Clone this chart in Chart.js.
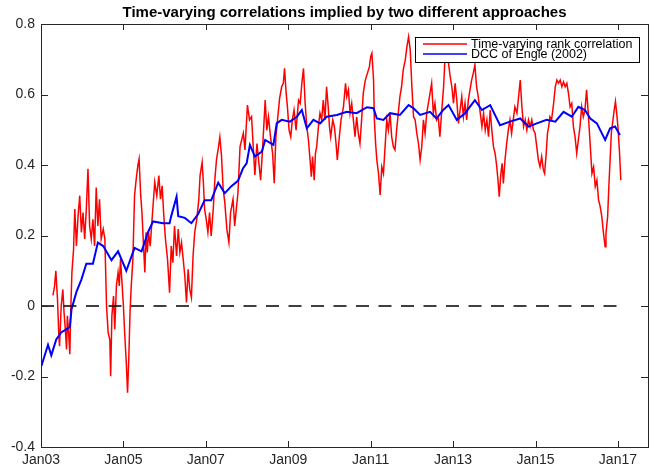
<!DOCTYPE html>
<html>
<head>
<meta charset="utf-8">
<script src="https://cdn.jsdelivr.net/npm/chart.js@4/dist/chart.umd.min.js"></script>
<style>
  html, body { margin: 0; padding: 0; background: #fff; }
  #wrap { width: 650px; height: 471px; }
</style>
</head>
<body>
<div id="wrap"><canvas id="corrChart" width="650" height="471"></canvas></div>
<script>
// Time-varying rank correlation (red), decimal years / values
const rankYears = [
  2003.29, 2003.33, 2003.36, 2003.40, 2003.43, 2003.45, 2003.49, 2003.53, 2003.56, 2003.59,
  2003.62, 2003.64, 2003.67, 2003.70, 2003.72, 2003.75, 2003.79, 2003.82, 2003.86, 2003.90,
  2003.94, 2003.98, 2004.02, 2004.06, 2004.10, 2004.14, 2004.18, 2004.22, 2004.26, 2004.30,
  2004.34, 2004.38, 2004.42, 2004.46, 2004.51, 2004.55, 2004.59, 2004.63, 2004.67, 2004.69,
  2004.72, 2004.76, 2004.79, 2004.83, 2004.87, 2004.90, 2004.93, 2004.97, 2005.00, 2005.03,
  2005.07, 2005.10, 2005.13, 2005.16, 2005.19, 2005.23, 2005.27, 2005.31, 2005.35, 2005.38,
  2005.42, 2005.45, 2005.48, 2005.52, 2005.55, 2005.58, 2005.61, 2005.65, 2005.69, 2005.73,
  2005.76, 2005.81, 2005.86, 2005.90, 2005.94, 2005.98, 2006.02, 2006.07, 2006.12, 2006.16,
  2006.20, 2006.24, 2006.29, 2006.33, 2006.37, 2006.41, 2006.45, 2006.49, 2006.53, 2006.57,
  2006.61, 2006.65, 2006.69, 2006.73, 2006.78, 2006.83, 2006.86, 2006.91, 2006.94, 2006.97,
  2007.01, 2007.05, 2007.09, 2007.13, 2007.18, 2007.22, 2007.26, 2007.30, 2007.34, 2007.38,
  2007.42, 2007.46, 2007.51, 2007.56, 2007.60, 2007.66, 2007.70, 2007.74, 2007.78, 2007.83,
  2007.91, 2007.95, 2008.01, 2008.06, 2008.11, 2008.15, 2008.19, 2008.24, 2008.28, 2008.33,
  2008.38, 2008.44, 2008.48, 2008.52, 2008.57, 2008.62, 2008.66, 2008.70, 2008.74, 2008.79,
  2008.84, 2008.88, 2008.91, 2008.95, 2008.98, 2009.02, 2009.06, 2009.10, 2009.14, 2009.19,
  2009.25, 2009.29, 2009.33, 2009.37, 2009.41, 2009.45, 2009.49, 2009.53, 2009.56, 2009.59,
  2009.63, 2009.66, 2009.69, 2009.74, 2009.77, 2009.81, 2009.85, 2009.89, 2009.93, 2009.97,
  2010.00, 2010.03, 2010.08, 2010.12, 2010.16, 2010.19, 2010.24, 2010.28, 2010.34, 2010.39,
  2010.42, 2010.46, 2010.50, 2010.54, 2010.58, 2010.62, 2010.66, 2010.70, 2010.74, 2010.78,
  2010.82, 2010.87, 2010.92, 2010.97, 2011.00, 2011.03, 2011.07, 2011.09, 2011.12, 2011.15,
  2011.19, 2011.23, 2011.27, 2011.31, 2011.35, 2011.39, 2011.43, 2011.47, 2011.51, 2011.55,
  2011.59, 2011.63, 2011.67, 2011.71, 2011.75, 2011.79, 2011.84, 2011.88, 2011.92, 2011.96,
  2012.00, 2012.04, 2012.08, 2012.12, 2012.16, 2012.20, 2012.24, 2012.28, 2012.32, 2012.36,
  2012.40, 2012.44, 2012.48, 2012.52, 2012.56, 2012.60, 2012.64, 2012.68, 2012.72, 2012.77,
  2012.81, 2012.85, 2012.89, 2012.93, 2012.97, 2013.01, 2013.05, 2013.09, 2013.13, 2013.17,
  2013.21, 2013.25, 2013.29, 2013.33, 2013.37, 2013.41, 2013.45, 2013.49, 2013.53, 2013.57,
  2013.61, 2013.66, 2013.70, 2013.74, 2013.78, 2013.82, 2013.86, 2013.90, 2013.94, 2013.98,
  2014.02, 2014.06, 2014.09, 2014.12, 2014.16, 2014.19, 2014.22, 2014.26, 2014.30, 2014.34,
  2014.38, 2014.42, 2014.46, 2014.50, 2014.55, 2014.59, 2014.63, 2014.67, 2014.71, 2014.75,
  2014.79, 2014.83, 2014.87, 2014.91, 2014.95, 2014.99, 2015.03, 2015.07, 2015.11, 2015.15,
  2015.19, 2015.22, 2015.26, 2015.29, 2015.32, 2015.35, 2015.39, 2015.44, 2015.48, 2015.52,
  2015.56, 2015.60, 2015.64, 2015.68, 2015.72, 2015.76, 2015.80, 2015.84, 2015.88, 2015.92,
  2015.96, 2016.00, 2016.04, 2016.08, 2016.12, 2016.16, 2016.20, 2016.24, 2016.28, 2016.33,
  2016.37, 2016.41, 2016.45, 2016.49, 2016.53, 2016.57, 2016.61, 2016.65, 2016.69, 2016.71,
  2016.75, 2016.78, 2016.81, 2016.84, 2016.88, 2016.91, 2016.94, 2016.97, 2017.00, 2017.04,
  2017.07
];
const rankValues = [
  0.030, 0.057, 0.100, 0.020, -0.076, -0.114, 0.000, 0.047, -0.020, -0.066,
  -0.123, -0.028, -0.076, -0.137, -0.020, 0.095, 0.160, 0.275, 0.170, 0.256,
  0.313, 0.209, 0.265, 0.190, 0.275, 0.389, 0.227, 0.190, 0.246, 0.170,
  0.336, 0.227, 0.303, 0.190, 0.218, 0.190, 0.000, -0.076, -0.095, -0.199,
  -0.028, 0.028, -0.066, 0.057, 0.095, 0.057, 0.133, 0.057, 0.000, -0.076,
  -0.161, -0.246, -0.152, -0.020, 0.057, 0.133, 0.313, 0.360, 0.398, 0.417,
  0.313, 0.265, 0.190, 0.095, 0.209, 0.152, 0.209, 0.170, 0.237, 0.303,
  0.351, 0.313, 0.370, 0.303, 0.341, 0.256, 0.190, 0.133, 0.038, 0.170,
  0.123, 0.227, 0.142, 0.218, 0.152, 0.180, 0.133, 0.085, 0.010, 0.104,
  0.047, 0.024, 0.142, 0.209, 0.246, 0.303, 0.370, 0.408, 0.351, 0.275,
  0.246, 0.209, 0.265, 0.199, 0.275, 0.360, 0.417, 0.445, 0.479, 0.427,
  0.332, 0.294, 0.218, 0.180, 0.265, 0.303, 0.227, 0.275, 0.322, 0.452,
  0.490, 0.443, 0.570, 0.528, 0.537, 0.452, 0.372, 0.461, 0.414, 0.357,
  0.452, 0.584, 0.499, 0.537, 0.480, 0.433, 0.348, 0.480, 0.528, 0.589,
  0.622, 0.632, 0.674, 0.603, 0.565, 0.499, 0.480, 0.528, 0.556, 0.499,
  0.584, 0.575, 0.632, 0.674, 0.575, 0.509, 0.471, 0.414, 0.367, 0.424,
  0.357, 0.433, 0.452, 0.518, 0.547, 0.528, 0.584, 0.528, 0.622, 0.565,
  0.509, 0.480, 0.528, 0.509, 0.461, 0.414, 0.480, 0.528, 0.565, 0.632,
  0.594, 0.613, 0.547, 0.575, 0.528, 0.480, 0.537, 0.490, 0.461, 0.528,
  0.603, 0.641, 0.660, 0.679, 0.707, 0.717, 0.641, 0.528, 0.461, 0.414,
  0.376, 0.315, 0.395, 0.376, 0.452, 0.528, 0.499, 0.547, 0.480, 0.452,
  0.443, 0.499, 0.547, 0.594, 0.622, 0.670, 0.698, 0.736, 0.764, 0.726,
  0.622, 0.537, 0.528, 0.490, 0.461, 0.414, 0.452, 0.528, 0.490, 0.547,
  0.575, 0.603, 0.632, 0.547, 0.575, 0.528, 0.537, 0.480, 0.547, 0.622,
  0.720, 0.730, 0.688, 0.651, 0.622, 0.575, 0.632, 0.584, 0.518, 0.556,
  0.594, 0.537, 0.575, 0.528, 0.584, 0.613, 0.641, 0.660, 0.684, 0.622,
  0.594, 0.547, 0.509, 0.547, 0.499, 0.528, 0.480, 0.556, 0.499, 0.452,
  0.433, 0.395, 0.357, 0.310, 0.376, 0.405, 0.348, 0.414, 0.461, 0.499,
  0.528, 0.490, 0.528, 0.565, 0.547, 0.594, 0.641, 0.565, 0.509, 0.528,
  0.499, 0.528, 0.509, 0.528, 0.499, 0.490, 0.452, 0.414, 0.395, 0.424,
  0.386, 0.376, 0.433, 0.490, 0.509, 0.537, 0.528, 0.575, 0.622, 0.641,
  0.632, 0.641, 0.622, 0.636, 0.622, 0.632, 0.603, 0.565, 0.575, 0.509,
  0.480, 0.433, 0.471, 0.509, 0.565, 0.537, 0.556, 0.613, 0.547, 0.452,
  0.376, 0.395, 0.339, 0.357, 0.301, 0.282, 0.253, 0.206, 0.168, 0.206,
  0.253, 0.339, 0.414, 0.490, 0.528, 0.556, 0.580, 0.547, 0.509, 0.433,
  0.357
];

// DCC of Engle (2002) (blue)
const dccYears = [
  2003.01, 2003.17, 2003.25, 2003.37, 2003.49, 2003.70, 2003.74, 2003.86, 2003.98, 2004.10,
  2004.26, 2004.38, 2004.51, 2004.71, 2004.87, 2005.07, 2005.27, 2005.44, 2005.60, 2005.72,
  2005.96, 2006.12, 2006.16, 2006.29, 2006.33, 2006.49, 2006.65, 2006.81, 2006.97, 2007.13,
  2007.30, 2007.46, 2007.62, 2007.78, 2007.90, 2007.99, 2008.07, 2008.19, 2008.36, 2008.44,
  2008.64, 2008.72, 2008.84, 2009.04, 2009.21, 2009.33, 2009.45, 2009.61, 2009.77, 2009.93,
  2010.18, 2010.42, 2010.66, 2010.91, 2011.07, 2011.15, 2011.31, 2011.47, 2011.71, 2011.92,
  2012.04, 2012.20, 2012.44, 2012.60, 2012.76, 2012.89, 2013.09, 2013.29, 2013.53, 2013.70,
  2013.90, 2014.14, 2014.38, 2014.63, 2014.83, 2015.03, 2015.27, 2015.48, 2015.68, 2015.88,
  2016.04, 2016.20, 2016.33, 2016.49, 2016.69, 2016.81, 2016.93, 2017.05
];
const dccValues = [
  -0.170, -0.110, -0.140, -0.095, -0.075, -0.060, -0.010, 0.040, 0.075, 0.120,
  0.120, 0.180, 0.170, 0.130, 0.155, 0.100, 0.165, 0.155, 0.210, 0.240,
  0.235, 0.235, 0.255, 0.310, 0.255, 0.250, 0.235, 0.260, 0.300, 0.300,
  0.350, 0.320, 0.340, 0.355, 0.390, 0.405, 0.457, 0.424, 0.438, 0.471,
  0.457, 0.518, 0.528, 0.523, 0.537, 0.556, 0.504, 0.528, 0.518, 0.537,
  0.542, 0.551, 0.547, 0.564, 0.561, 0.532, 0.528, 0.547, 0.542, 0.570,
  0.561, 0.542, 0.551, 0.532, 0.556, 0.570, 0.528, 0.547, 0.584, 0.556,
  0.570, 0.513, 0.523, 0.532, 0.509, 0.518, 0.528, 0.523, 0.551, 0.537,
  0.565, 0.556, 0.532, 0.518, 0.471, 0.504, 0.509, 0.485
];

// zero reference line
const zeroYears = [2003.0, 2017.07];
const zeroValues = [0, 0];

// axes
const xMin = 2003, xMax = 2017.73;
const xTickValues = [2003, 2005, 2007, 2009, 2011, 2013, 2015, 2017];
const xTickLabels = ['Jan03', 'Jan05', 'Jan07', 'Jan09', 'Jan11', 'Jan13', 'Jan15', 'Jan17'];
const yMin = -0.4, yMax = 0.8;
const yTickValues = [-0.4, -0.2, 0, 0.2, 0.4, 0.6, 0.8];
const yTickLabels = ['-0.4', '-0.2', '0', '0.2', '0.4', '0.6', '0.8'];

const chartTitle = 'Time-varying correlations implied by two different approaches';
const seriesNames = ['Time-varying rank correlation', 'DCC of Engle (2002)'];
const seriesColors = ['#ff0000', '#0000ff'];

const FONT = '"Liberation Sans", Arial, Helvetica, sans-serif';
const AXIS_COLOR = '#262626';

function toPoints(xs, ys) {
    return xs.map((x, i) => ({ x: x, y: ys[i] }));
}

// рамка + тики внутрь со всех четырёх сторон (как в MATLAB)
const boxTicksPlugin = {
    id: 'boxTicks',
    afterDraw(chart) {
        const { ctx, chartArea: a, scales } = chart;
        ctx.save();
        ctx.strokeStyle = AXIS_COLOR;
        ctx.lineWidth = 1;
        ctx.strokeRect(a.left + 0.5, a.top + 0.5, a.right - a.left, a.bottom - a.top);
        ctx.beginPath();
        xTickValues.forEach(v => {
            const px = Math.round(scales.x.getPixelForValue(v)) + 0.5;
            ctx.moveTo(px, a.bottom); ctx.lineTo(px, a.bottom - 6);
            ctx.moveTo(px, a.top); ctx.lineTo(px, a.top + 6);
        });
        yTickValues.forEach(v => {
            const py = Math.round(scales.y.getPixelForValue(v)) + 0.5;
            ctx.moveTo(a.left, py); ctx.lineTo(a.left + 7, py);
            ctx.moveTo(a.right, py); ctx.lineTo(a.right - 7, py);
        });
        ctx.stroke();
        ctx.restore();
    }
};

const titlePlugin = {
    id: 'plotTitle',
    afterDraw(chart) {
        const { ctx, chartArea: a } = chart;
        ctx.save();
        ctx.fillStyle = '#000';
        ctx.font = 'bold 15px ' + FONT;
        ctx.textAlign = 'center';
        ctx.textBaseline = 'middle';
        ctx.fillText(chartTitle, (a.left + a.right) / 2, a.top - 11);
        ctx.restore();
    }
};

// легенда в рамке, поверх линий
const boxLegendPlugin = {
    id: 'boxLegend',
    afterDraw(chart) {
        const { ctx, chartArea: a } = chart;
        const left = a.right - 233, top = a.top + 13, w = 224, h = 25;
        ctx.save();
        ctx.fillStyle = '#fff';
        ctx.fillRect(left, top, w, h);
        ctx.strokeStyle = '#000';
        ctx.lineWidth = 1;
        ctx.strokeRect(left + 0.5, top + 0.5, w, h);
        ctx.font = '12.5px ' + FONT;
        ctx.textBaseline = 'middle';
        seriesNames.forEach((name, i) => {
            const y = top + 7 + i * 10;
            ctx.strokeStyle = seriesColors[i];
            ctx.lineWidth = 1.5;
            ctx.beginPath();
            ctx.moveTo(left + 8, y);
            ctx.lineTo(left + 52, y);
            ctx.stroke();
            ctx.fillStyle = '#000';
            ctx.fillText(name, left + 56, y + 0.5);
        });
        ctx.restore();
    }
};

const ctx = document.getElementById('corrChart').getContext('2d');
const corrChart = new Chart(ctx, {
    type: 'line',
    data: {
        datasets: [
            {
                label: 'zero',
                data: toPoints(zeroYears, zeroValues),
                borderColor: '#000',
                borderWidth: 1.3,
                borderDash: [13, 9.5],
                pointRadius: 0,
                order: 0
            },
            {
                label: seriesNames[1],
                data: toPoints(dccYears, dccValues),
                borderColor: seriesColors[1],
                borderWidth: 2,
                pointRadius: 0,
                tension: 0,
                order: 1
            },
            {
                label: seriesNames[0],
                data: toPoints(rankYears, rankValues),
                borderColor: seriesColors[0],
                borderWidth: 1.5,
                pointRadius: 0,
                tension: 0,
                order: 2
            }
        ]
    },
    options: {
        responsive: false,
        animation: false,
        devicePixelRatio: 1,
        layout: { padding: { top: 24, right: 2, left: 0, bottom: 0 } },
        scales: {
            x: {
                type: 'linear',
                min: xMin,
                max: xMax,
                grid: { display: false, drawTicks: false },
                border: { display: false },
                afterBuildTicks: s => { s.ticks = xTickValues.map(v => ({ value: v })); },
                afterFit: s => { s.height = 24; },
                ticks: {
                    autoSkip: false,
                    maxRotation: 0,
                    padding: 5,
                    color: AXIS_COLOR,
                    font: { family: FONT, size: 14 },
                    callback: (v, i) => xTickLabels[i]
                }
            },
            y: {
                min: yMin,
                max: yMax,
                grid: { display: false, drawTicks: false },
                border: { display: false },
                afterBuildTicks: s => { s.ticks = yTickValues.map(v => ({ value: v })); },
                afterFit: s => { s.width = 41; },
                ticks: {
                    padding: 6,
                    color: AXIS_COLOR,
                    font: { family: FONT, size: 14 },
                    callback: (v, i) => yTickLabels[i]
                }
            }
        },
        plugins: {
            legend: { display: false },
            tooltip: { enabled: false },
            title: { display: false }
        }
    },
    plugins: [boxTicksPlugin, titlePlugin, boxLegendPlugin]
});
</script>
</body>
</html>
